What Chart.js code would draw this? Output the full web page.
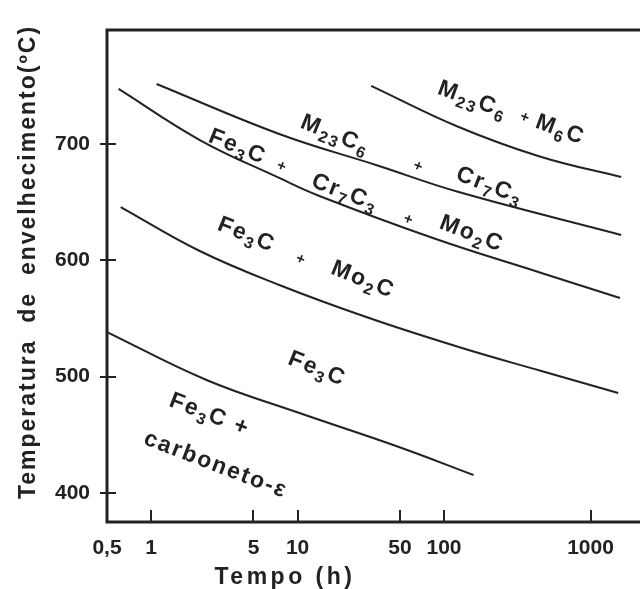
<!DOCTYPE html>
<html>
<head>
<meta charset="utf-8">
<script src="https://cdn.jsdelivr.net/npm/chart.js@4.4.0/dist/chart.umd.min.js"></script>
<style>
  html, body { margin: 0; padding: 0; background: #fff; }
  #wrap { width: 640px; height: 589px; }
</style>
</head>
<body>
<div id="wrap"><canvas id="grafico"></canvas></div>
<script>
// tick values
const xTicks = [0.5, 1, 5, 10, 50, 100, 1000];
const yTicks = [400, 500, 600, 700];

// curves (tempo em h, temperatura em oC)
const curve1Time = [31.8, 126, 462, 1620];
const curve1Temp = [750, 714.6, 688.8, 671.6];
const curve2Time = [1.09, 7.5, 36, 126, 1620];
const curve2Temp = [751.6, 708.6, 681.1, 658.7, 621.8];
const curve3Time = [0.6, 2.15, 7.5, 14.1, 87.9, 462, 1590];
const curve3Temp = [747.3, 703.4, 670.8, 655.3, 618.3, 589.1, 567.6];
const curve4Time = [0.62, 2.15, 7.5, 30.8, 126, 462, 1545];
const curve4Temp = [645.8, 608.0, 578.8, 550.4, 525.5, 504.8, 485.9];
const curve5Time = [0.5, 2.39, 10.3, 49.2, 159];
const curve5Temp = [538.3, 497.1, 468.7, 439.5, 415.4];

// phase labels ({..} = subscript)
const labelTexts = ['M{23}C{6}', '+', 'M{6}C', 'M{23}C{6}', '+', 'Cr{7}C{3}',
  'Fe{3}C', '+', 'Cr{7}C{3}', '+', 'Mo{2}C',
  'Fe{3}C', '+', 'Mo{2}C', 'Fe{3}C', 'Fe{3}C +', 'carboneto-ε'];
const labelTimes = [157, 360, 622, 18.1, 67.3, 205, 3.89, 7.88, 21.1, 57.6, 154.5, 4.48, 10.6, 28.0, 13.6, 2.51, 2.76];
const labelTemps = [737.8, 722.4, 712.0, 707.7, 680.2, 663.9, 697.4, 680.2, 657.9, 634.7, 622.6, 621.8, 600.3, 583.1, 506.5, 467.0, 424.0];
const labelAngles = [20, 20, 20, 22, 22, 21, 22, 22, 21, 21, 21, 22, 22, 22, 22, 21, 21];

const ink = '#222';
const fontName = '"Liberation Sans", Arial, sans-serif';

function pts(times, temps) {
    return times.map((t, i) => ({x: t, y: temps[i]}));
}

function drawRich(ctx, str, cx, cy, angle, size) {
    const parts = [];
    str.replace(/\{([^}]*)\}|([^{]+)/g, (m, sub, main) => {
        parts.push(sub !== undefined ? {t: sub, sub: true} : {t: main, sub: false});
    });
    const mainFont = 'bold ' + size + 'px ' + fontName;
    const subFont = 'bold ' + Math.round(size * 0.68) + 'px ' + fontName;
    ctx.save();
    ctx.letterSpacing = '2px';
    let total = 0;
    parts.forEach(p => {
        ctx.font = p.sub ? subFont : mainFont;
        p.w = ctx.measureText(p.t).width;
        total += p.w;
    });
    ctx.translate(cx, cy);
    ctx.rotate(angle * Math.PI / 180);
    ctx.fillStyle = ink;
    ctx.textBaseline = 'middle';
    ctx.textAlign = 'left';
    let x = -total / 2;
    parts.forEach(p => {
        ctx.font = p.sub ? subFont : mainFont;
        ctx.fillText(p.t, x, p.sub ? size * 0.32 : 0);
        x += p.w;
    });
    ctx.restore();
}

const decor = {
    id: 'decor',
    afterDraw(chart) {
        const ctx = chart.ctx;
        const a = chart.chartArea;
        const xs = chart.scales.x, ys = chart.scales.y;
        ctx.save();
        ctx.strokeStyle = ink;
        ctx.lineCap = 'square';
        ctx.lineWidth = 3;
        ctx.beginPath();
        ctx.moveTo(a.left, a.top); ctx.lineTo(a.left, a.bottom);
        ctx.moveTo(a.left, a.top); ctx.lineTo(chart.width, a.top);
        ctx.moveTo(a.left, a.bottom); ctx.lineTo(chart.width, a.bottom);
        ctx.stroke();

        // tick marks
        ctx.lineWidth = 2;
        ctx.lineCap = 'butt';
        ctx.beginPath();
        xTicks.forEach(v => {
            if (v <= xs.min) return;
            const px = Math.round(xs.getPixelForValue(v));
            ctx.moveTo(px, a.bottom); ctx.lineTo(px, a.bottom - 12);
        });
        yTicks.forEach(v => {
            const py = Math.round(ys.getPixelForValue(v));
            ctx.moveTo(a.left - 7, py); ctx.lineTo(a.left + 9, py);
        });
        ctx.stroke();

        // phase labels
        ctx.beginPath();
        ctx.rect(a.left, a.top, chart.width - a.left, a.bottom - a.top);
        ctx.clip();
        labelTexts.forEach((txt, i) => {
            const size = txt === '+' ? 15 : 23;
            drawRich(ctx, txt, xs.getPixelForValue(labelTimes[i]), ys.getPixelForValue(labelTemps[i]), labelAngles[i], size);
        });
        ctx.restore();

        // axis titles
        ctx.save();
        ctx.fillStyle = ink;
        ctx.font = 'bold 23px ' + fontName;
        ctx.letterSpacing = '3.5px';
        ctx.textAlign = 'center';
        ctx.textBaseline = 'middle';
        ctx.fillText('Tempo (h)', a.left + 178, 578);
        ctx.letterSpacing = '2px';
        ctx.translate(29, 262);
        ctx.rotate(-Math.PI / 2);
        ctx.fillText('Temperatura  de  envelhecimento(ºC)', 0, 0);
        ctx.restore();
    }
};

const lineStyle = {
    borderColor: ink,
    borderWidth: 2,
    pointRadius: 0,
    fill: false,
    tension: 0.4
};

new Chart(document.getElementById('grafico'), {
    type: 'line',
    data: {
        datasets: [
            Object.assign({label: 'M23C6+M6C', data: pts(curve1Time, curve1Temp)}, lineStyle),
            Object.assign({label: 'M23C6+Cr7C3', data: pts(curve2Time, curve2Temp)}, lineStyle),
            Object.assign({label: 'Fe3C+Cr7C3+Mo2C', data: pts(curve3Time, curve3Temp)}, lineStyle),
            Object.assign({label: 'Fe3C+Mo2C', data: pts(curve4Time, curve4Temp)}, lineStyle),
            Object.assign({label: 'Fe3C', data: pts(curve5Time, curve5Temp)}, lineStyle)
        ]
    },
    options: {
        responsive: true,
        maintainAspectRatio: false,
        animation: false,
        layout: {padding: {top: 30, right: 2, left: 0, bottom: 0}},
        plugins: {legend: {display: false}, tooltip: {enabled: false}},
        scales: {
            x: {
                type: 'logarithmic',
                min: 0.5,
                max: 2110,
                afterBuildTicks: s => { s.ticks = xTicks.map(v => ({value: v})); },
                afterFit: s => { s.height = 67; },
                grid: {display: false},
                border: {display: false},
                ticks: {
                    autoSkip: false,
                    maxRotation: 0,
                    padding: 6,
                    color: ink,
                    font: {family: fontName, size: 21, weight: 'bold'},
                    callback: v => v === 0.5 ? '0,5' : String(v)
                }
            },
            y: {
                min: 375,
                max: 798,
                afterBuildTicks: s => { s.ticks = yTicks.map(v => ({value: v})); },
                afterFit: s => { s.width = 107; },
                grid: {display: false},
                border: {display: false},
                ticks: {
                    padding: 9,
                    color: ink,
                    font: {family: fontName, size: 21, weight: 'bold'}
                }
            }
        }
    },
    plugins: [decor]
});
</script>
</body>
</html>
